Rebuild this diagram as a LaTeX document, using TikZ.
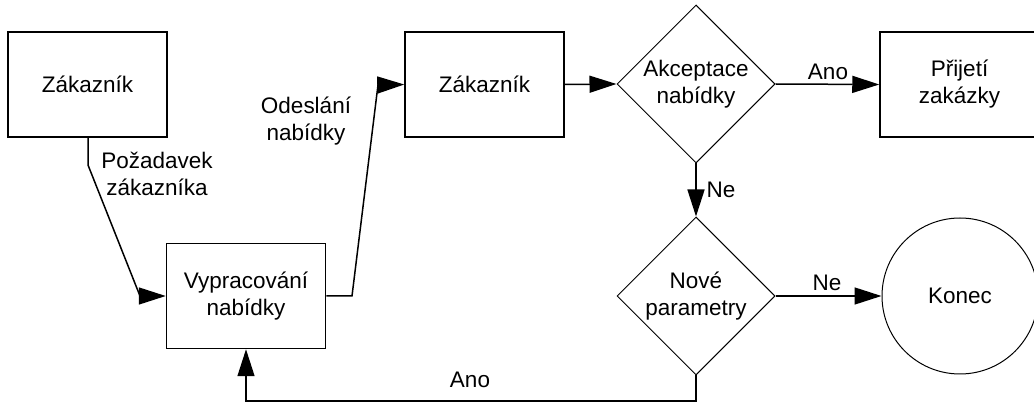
\documentclass[tikz,border=0pt]{standalone}
\usepackage{fontspec}
\setmainfont{Liberation Sans}
\usetikzlibrary{shapes.geometric,arrows.meta}
\begin{document}
\begin{tikzpicture}[x=1pt,y=-1pt,
  every node/.style={font=\fontsize{22.5}{27}\selectfont, align=center},
  box/.style={draw, line width=1.5pt, rectangle, minimum width=159pt, minimum height=105pt, inner sep=0pt},
  decision/.style={draw, line width=1pt, diamond, minimum width=158pt, minimum height=158pt, inner sep=0pt, aspect=1},
  terminal/.style={draw, line width=1pt, circle, minimum size=156pt, inner sep=0pt},
  flow/.style={line width=1.5pt, -{Triangle[length=27pt,width=17pt]}},
  lbl/.style={inner sep=0pt}]
\useasboundingbox (0,0) rectangle (1034,403);
\begin{scope}
\clip (0,0) rectangle (1034,403);
\node[box] (z1) at (87.5,84.5) {Zákazník};
\node[box] (vp) at (246,296) {Vypracování\\nabídky};
\node[box] (z2) at (484.5,84.5) {Zákazník};
\node[decision] (ak) at (696,84) {Akceptace\\nabídky};
\node[box] (pz) at (959.5,84.5) {Přijetí\\zakázky};
\node[decision] (np) at (696,296) {Nové\\parametry};
\node[terminal] (ko) at (960,296) {Konec};

\coordinate (k1) at (88,165);
\coordinate (k2) at (140,296);
\coordinate (k3) at (352,296);
\coordinate (k4) at (378,85);
\coordinate (k5) at (696,401);
\coordinate (k6) at (246,401);

\draw[flow] (z1.south -| k1) -- (k1) -- (k2) -- (vp.west);
\draw[flow] (vp.east) -- (k3) -- (k4) -- (z2.west);
\draw[flow] (z2.east) -- (ak.west);
\draw[flow] (ak.east) -- (pz.west);
\draw[flow] (ak.south) -- (np.north);
\draw[flow] (np.east) -- (ko.west);
\draw[flow] (np.south) -- (k5) -- (k6) -- (vp.south);

\node[lbl] (l1) at (157,174) {Požadavek\\zákazníka};
\node[lbl] (l2) at (306,121) {Odeslání\\nabídky};
\node[lbl] (l3) at (828,72) {Ano};
\node[lbl] (l4) at (721,190) {Ne};
\node[lbl] (l5) at (827,283) {Ne};
\node[lbl] (l6) at (470,380) {Ano};
\end{scope}
\end{tikzpicture}
\end{document}
